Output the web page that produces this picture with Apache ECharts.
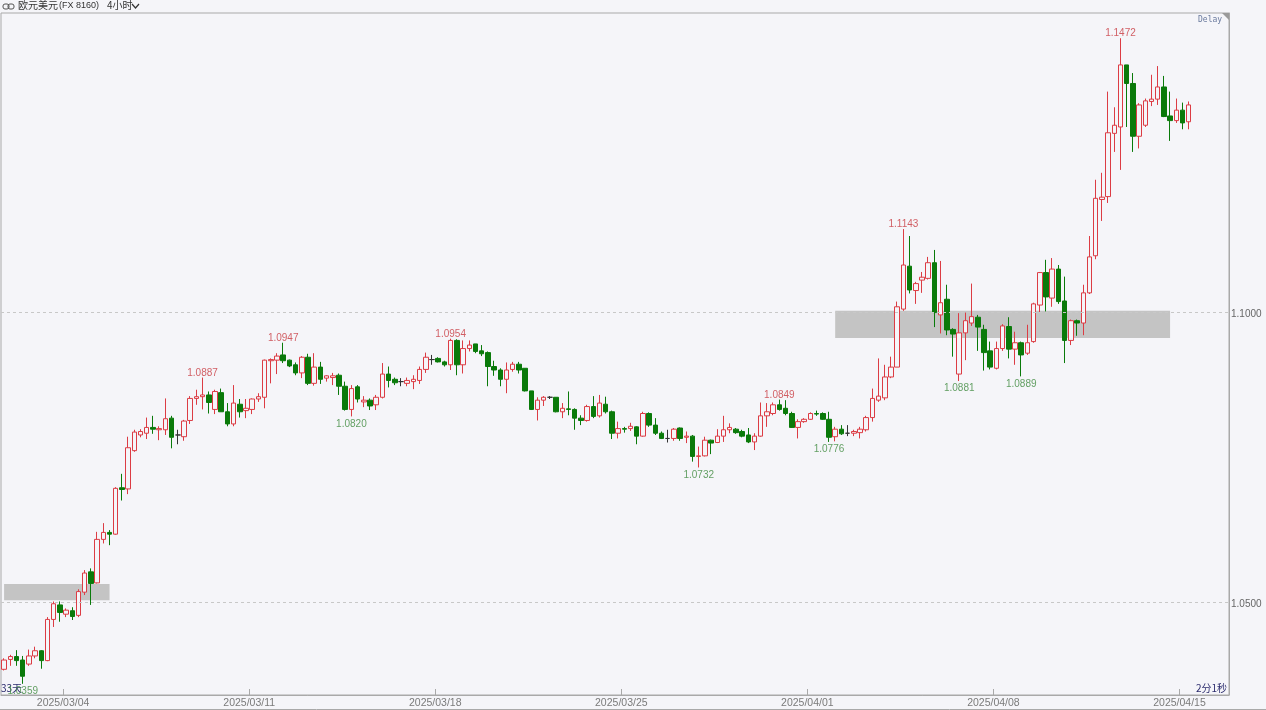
<!DOCTYPE html>
<html>
<head>
<meta charset="utf-8">
<script src="https://cdn.jsdelivr.net/npm/echarts@6/dist/echarts.min.js"></script>
<style>
html,body{margin:0;padding:0;background:#f5f5f9;}
#chart{width:1266px;height:710px;}
</style>
</head>
<body>
<div id="chart"></div>
<script>
// ---- data (4-hour bars, EUR/USD) ----
const opens = [
1.0384,1.0401,1.0406,1.0400,1.0393,1.0407,1.0416,1.0399,1.0470,1.0495,
1.0479,1.0485,1.0477,1.0517,1.0552,1.0533,1.0608,1.0620,1.0617,1.0697,
1.0695,1.0761,1.0788,1.0791,1.0801,1.0797,1.0797,1.0817,1.0788,1.0785,
1.0813,1.0851,1.0854,1.0857,1.0832,1.0861,1.0828,1.0807,1.0841,1.0830,
1.0832,1.0850,1.0853,1.0916,1.0917,1.0926,1.0917,1.0909,1.0895,1.0922,
1.0877,1.0905,1.0886,1.0887,1.0891,1.0872,1.0832,1.0871,1.0845,1.0848,
1.0840,1.0853,1.0893,1.0884,1.0880,1.0877,1.0880,1.0882,1.0901,1.0918,
1.0920,1.0914,1.0909,1.0951,1.0909,1.0937,1.0945,1.0933,1.0930,1.0906,
1.0900,1.0884,1.0901,1.0910,1.0903,1.0864,1.0832,1.0848,1.0853,1.0853,
1.0828,1.0833,1.0832,1.0817,1.0813,1.0837,1.0821,1.0841,1.0828,1.0791,
1.0799,1.0799,1.0802,1.0786,1.0825,1.0805,1.0791,1.0782,1.0782,1.0800,
1.0784,1.0786,1.0751,1.0752,1.0779,1.0775,1.0786,1.0797,1.0798,1.0794,
1.0788,1.0776,1.0786,1.0821,1.0825,1.0840,1.0834,1.0825,1.0801,1.0811,
1.0815,1.0825,1.0825,1.0815,1.0785,1.0798,1.0791,1.0791,1.0792,1.0797,
1.0818,1.0848,1.0852,1.0888,1.0905,1.1005,1.1079,1.1037,1.1055,1.1058,
1.1085,1.0995,1.1022,1.0970,1.0893,1.0964,1.0981,1.0991,1.0970,1.0933,
1.0903,1.0937,1.0975,1.0936,1.0947,1.0929,1.0949,1.1012,1.1068,1.1024,
1.1074,1.1019,1.0951,1.0985,1.0981,1.1033,1.1097,1.1194,1.1199,1.1308,
1.1319,1.1426,1.1394,1.1303,1.1322,1.1363,1.1367,1.1388,1.1338,1.1330,
1.1348,1.1328
];
const highs = [
1.0403,1.0409,1.0417,1.0407,1.0418,1.0423,1.0417,1.0474,1.0501,1.0501,
1.0489,1.0491,1.0522,1.0555,1.0558,1.0621,1.0636,1.0624,1.0698,1.0721,
1.0785,1.0797,1.0798,1.0818,1.0821,1.0803,1.0851,1.0821,1.0797,1.0814,
1.0855,1.0866,1.0887,1.0863,1.0866,1.0868,1.0843,1.0874,1.0850,1.0850,
1.0851,1.0860,1.0918,1.0920,1.0929,1.0947,1.0918,1.0913,1.0924,1.0928,
1.0929,1.0914,1.0891,1.0895,1.0894,1.0880,1.0874,1.0874,1.0855,1.0851,
1.0857,1.0912,1.0906,1.0887,1.0886,1.0887,1.0891,1.0906,1.0930,1.0926,
1.0922,1.0916,1.0954,1.0953,1.0951,1.0951,1.0945,1.0943,1.0932,1.0916,
1.0903,1.0913,1.0914,1.0914,1.0903,1.0864,1.0853,1.0855,1.0855,1.0853,
1.0843,1.0863,1.0834,1.0822,1.0840,1.0855,1.0857,1.0854,1.0830,1.0811,
1.0802,1.0809,1.0803,1.0828,1.0827,1.0817,1.0794,1.0797,1.0800,1.0801,
1.0794,1.0788,1.0768,1.0785,1.0780,1.0798,1.0821,1.0808,1.0800,1.0797,
1.0800,1.0791,1.0844,1.0843,1.0844,1.0849,1.0848,1.0828,1.0815,1.0817,
1.0827,1.0830,1.0827,1.0828,1.0802,1.0805,1.0805,1.0797,1.0802,1.0821,
1.0868,1.0920,1.0909,1.0923,1.1018,1.1143,1.1131,1.1052,1.1069,1.1095,
1.1107,1.1088,1.1047,1.0972,1.0998,1.0999,1.1049,1.0995,1.0978,1.0949,
1.0949,1.0979,1.0991,1.0966,1.0949,1.0978,1.1016,1.1069,1.1090,1.1093,
1.1081,1.1061,1.0987,1.0987,1.1047,1.1131,1.1228,1.1240,1.1380,1.1353,
1.1472,1.1426,1.1412,1.1360,1.1368,1.1409,1.1424,1.1407,1.1380,1.1368,
1.1361,1.1363
];
const lows = [
1.0382,1.0390,1.0390,1.0359,1.0390,1.0403,1.0385,1.0398,1.0457,1.0466,
1.0474,1.0469,1.0474,1.0512,1.0495,1.0532,1.0601,1.0598,1.0616,1.0675,
1.0686,1.0759,1.0784,1.0781,1.0790,1.0779,1.0788,1.0765,1.0772,1.0778,
1.0807,1.0840,1.0832,1.0825,1.0824,1.0828,1.0803,1.0803,1.0818,1.0817,
1.0824,1.0845,1.0834,1.0877,1.0893,1.0912,1.0905,1.0891,1.0886,1.0874,
1.0873,1.0876,1.0880,1.0874,1.0857,1.0830,1.0820,1.0844,1.0836,1.0831,
1.0831,1.0851,1.0870,1.0874,1.0872,1.0872,1.0867,1.0876,1.0895,1.0909,
1.0913,1.0906,1.0900,1.0891,1.0894,1.0932,1.0929,1.0924,1.0872,1.0890,
1.0872,1.0860,1.0897,1.0894,1.0863,1.0831,1.0813,1.0838,1.0850,1.0827,
1.0817,1.0822,1.0797,1.0805,1.0811,1.0817,1.0818,1.0825,1.0781,1.0782,
1.0792,1.0795,1.0772,1.0785,1.0802,1.0788,1.0781,1.0775,1.0778,1.0778,
1.0774,1.0742,1.0732,1.0751,1.0755,1.0774,1.0776,1.0791,1.0790,1.0784,
1.0774,1.0762,1.0785,1.0802,1.0822,1.0830,1.0822,1.0800,1.0782,1.0809,
1.0814,1.0821,1.0814,1.0776,1.0777,1.0788,1.0786,1.0786,1.0782,1.0794,
1.0811,1.0845,1.0848,1.0886,1.0905,1.1002,1.1032,1.1014,1.1033,1.1056,
1.0974,1.0963,1.0960,1.0923,1.0881,1.0917,1.0976,1.0933,1.0899,1.0901,
1.0901,1.0933,1.0920,1.0909,1.0889,1.0926,1.0947,1.0999,1.1001,1.1009,
1.1014,1.0912,1.0943,1.0959,1.0960,1.1031,1.1091,1.1157,1.1188,1.1276,
1.1245,1.1319,1.1276,1.1282,1.1319,1.1355,1.1357,1.1336,1.1295,1.1326,
1.1315,1.1315
];
const closes = [
1.0400,1.0406,1.0399,1.0372,1.0407,1.0416,1.0399,1.0470,1.0497,1.0482,
1.0486,1.0475,1.0518,1.0550,1.0532,1.0608,1.0620,1.0617,1.0696,1.0694,
1.0766,1.0793,1.0794,1.0801,1.0798,1.0799,1.0816,1.0784,1.0788,1.0812,
1.0851,1.0854,1.0857,1.0844,1.0863,1.0828,1.0807,1.0843,1.0828,1.0834,
1.0850,1.0854,1.0917,1.0918,1.0924,1.0916,1.0907,1.0895,1.0922,1.0877,
1.0905,1.0884,1.0890,1.0890,1.0872,1.0832,1.0868,1.0850,1.0848,1.0838,
1.0853,1.0893,1.0882,1.0878,1.0880,1.0882,1.0884,1.0901,1.0922,1.0918,
1.0914,1.0909,1.0951,1.0909,1.0937,1.0943,1.0932,1.0928,1.0906,1.0900,
1.0884,1.0900,1.0910,1.0900,1.0864,1.0832,1.0848,1.0853,1.0853,1.0828,
1.0834,1.0832,1.0817,1.0813,1.0837,1.0820,1.0843,1.0828,1.0791,1.0799,
1.0798,1.0803,1.0786,1.0825,1.0805,1.0791,1.0782,1.0782,1.0798,1.0782,
1.0786,1.0751,1.0752,1.0779,1.0774,1.0786,1.0797,1.0801,1.0792,1.0786,
1.0776,1.0786,1.0821,1.0828,1.0840,1.0832,1.0825,1.0801,1.0811,1.0815,
1.0825,1.0824,1.0815,1.0784,1.0798,1.0790,1.0791,1.0794,1.0798,1.0818,
1.0851,1.0855,1.0888,1.0905,1.1009,1.1081,1.1038,1.1049,1.1060,1.1085,
1.0999,1.1016,1.0969,1.0962,1.0964,1.0985,1.0992,1.0974,1.0930,1.0905,
1.0937,1.0976,1.0936,1.0947,1.0926,1.0947,1.1014,1.1068,1.1026,1.1074,
1.1018,1.0951,1.0985,1.0981,1.1033,1.1095,1.1196,1.1198,1.1309,1.1322,
1.1426,1.1394,1.1303,1.1357,1.1364,1.1367,1.1388,1.1337,1.1330,1.1348,
1.1326,1.1357
];
// bar slots on the category axis (bars + empty right margin)
const slotCount = 198;
// date ticks: bar index where the day starts, and its label
const dateTickIndex = [10, 40, 70, 100, 130, 160, 190];
const dateTickLabel = ['2025/03/04','2025/03/11','2025/03/18','2025/03/25','2025/04/01','2025/04/08','2025/04/15'];
// price axis
const yMin = 1.03397, yMax = 1.15155;
const yTicks = [1.05, 1.10];
// high / low annotations [barIndex, price]
const highMarks = [[32,1.0887],[45,1.0947],[72,1.0954],[125,1.0849],[145,1.1143],[180,1.1472]];
const lowMarks  = [[3,1.0359],[56,1.0820],[112,1.0732],[133,1.0776],[154,1.0881],[164,1.0889]];
// grey zones [startBar, endBar, low, high]
const zoneStart = [0, 134];
const zoneEnd   = [17, 188];
const zoneLow   = [1.0503, 1.0955];
const zoneHigh  = [1.0531, 1.1002];

const BG = '#f5f5f9';
const UP = '#dc3c44';
const DOWN = '#0a7a0a';

const categories = Array.from({length: slotCount}, (_, i) => String(i));
const candleData = opens.map((o, i) => [o, closes[i], lows[i], highs[i]]);
const lastClose = closes[closes.length - 1];

const chart = echarts.init(document.getElementById('chart'), null, {renderer: 'canvas'});
const FONT = 'Liberation Sans';

chart.setOption({
  backgroundColor: BG,
  animation: false,
  grid: {
    left: 1, right: 37, top: 13, bottom: 15,
    show: true, borderColor: '#a9a9a9', borderWidth: 1, backgroundColor: BG,
    containLabel: false, outerBoundsMode: 'none'
  },
  xAxis: {
    type: 'category',
    data: categories,
    boundaryGap: true,
    axisLine: {show: true, lineStyle: {color: '#a9a9a9'}},
    axisTick: {
      show: true, inside: true, length: 6, lineStyle: {color: '#a9a9a9'},
      interval: (idx) => dateTickIndex.includes(idx)
    },
    axisLabel: {
      show: true,
      interval: (idx) => dateTickIndex.includes(idx),
      formatter: (v) => { const k = dateTickIndex.indexOf(Number(v)); return k >= 0 ? dateTickLabel[k] : ''; },
      color: '#7a7a7a', fontSize: 10.5, fontFamily: FONT, margin: 3,
      padding: [0, 6, 0, 0], hideOverlap: false
    },
    splitLine: {show: false}
  },
  yAxis: {
    type: 'value',
    position: 'right',
    min: yMin, max: yMax,
    scale: true,
    axisLine: {show: true, lineStyle: {color: '#a9a9a9'}},
    axisTick: {show: false},
    splitLine: {show: false},
    axisLabel: {
      show: true,
      customValues: yTicks,
      formatter: (v) => '{a|' + v.toFixed(4) + '}',
      rich: {a: {padding: [4, 0, 0, 0], color: '#666666', fontSize: 10, fontFamily: FONT}},
      color: '#666666', fontSize: 10, fontFamily: FONT, margin: 2
    }
  },
  series: [
    {
      type: 'line',
      data: [],
      z: 1,
      silent: true,
      markArea: {
        silent: true,
        itemStyle: {color: '#c4c4c4', opacity: 1},
        data: zoneStart.map((s, k) => [
          {xAxis: s, yAxis: zoneHigh[k]},
          {xAxis: zoneEnd[k], yAxis: zoneLow[k]}
        ])
      },
      markLine: {
        silent: true,
        symbol: 'none',
        label: {show: false},
        data: yTicks.map(v => ({yAxis: v, lineStyle: {color: '#c8c8c8', type: [3, 3], width: 1}}))
          .concat([[{coord: [195, lastClose], lineStyle: {color: '#34347a', type: 'solid', width: 1}}, {coord: [197.6, lastClose]}]])
      }
    },
    {
      type: 'candlestick',
      data: candleData,
      z: 3,
      barWidth: 5,
      itemStyle: {
        color: BG, color0: DOWN,
        borderColor: UP, borderColor0: DOWN,
        borderColorDoji: '#333333',
        borderWidth: 1
      }
    },
    {
      type: 'scatter',
      data: highMarks,
      symbolSize: 1,
      z: 4,
      itemStyle: {color: 'rgba(0,0,0,0)'},
      label: {
        show: true, position: 'top', distance: 2, offset: [0, 3],
        formatter: (p) => p.value[1].toFixed(4),
        color: '#c8383e', fontSize: 10, fontFamily: FONT
      }
    },
    {
      type: 'scatter',
      data: lowMarks,
      symbolSize: 1,
      z: 4,
      itemStyle: {color: 'rgba(0,0,0,0)'},
      label: {
        show: true, position: 'bottom', distance: 2,
        formatter: (p) => p.value[1].toFixed(4),
        color: '#3d8a3d', fontSize: 10, fontFamily: FONT
      }
    }
  ],
  graphic: [
    // title bar
    {type: 'rect', shape: {x: 3, y: 4, width: 6, height: 5, r: 2}, style: {fill: 'none', stroke: '#555', lineWidth: 1}},
    {type: 'rect', shape: {x: 8, y: 4, width: 6, height: 5, r: 2}, style: {fill: 'none', stroke: '#555', lineWidth: 1}},
    {type: 'text', left: 18, top: 0, style: {text: '欧元美元', fontSize: 10, fontFamily: 'Noto Sans CJK SC', fill: '#333'}},
    {type: 'text', left: 59, top: 1, style: {text: '(FX 8160)', fontSize: 9, fontFamily: 'Liberation Sans', fill: '#333'}},
    {type: 'text', left: 107, top: 0, style: {text: '4小时', fontSize: 10, fontFamily: 'Noto Sans CJK SC', fill: '#333'}},
    {type: 'polyline', shape: {points: [[132, 4], [135.5, 8], [139, 4]]}, style: {stroke: '#333', lineWidth: 1.2, fill: 'none'}},
    // delay tag
    {type: 'text', left: 1198, top: 16, style: {text: 'Delay', fontSize: 8, fontFamily: 'DejaVu Sans Mono', fill: '#6a7a9e'}},
    {type: 'polygon', shape: {points: [[1222, 13], [1229, 13], [1229, 20]]}, style: {fill: '#9a9a9a'}},
    // bottom corner texts
    {type: 'text', left: 1, top: 683, style: {text: '33天', fontSize: 10, fontFamily: 'Noto Sans CJK SC', fill: '#2c2c6e'}},
    {type: 'text', right: 39, top: 683, style: {text: '2分1秒', fontSize: 10, fontFamily: 'Noto Sans CJK SC', fill: '#2c2c6e'}},
    // outer frame bottom
    {type: 'line', shape: {x1: 0, y1: 709.5, x2: 1266, y2: 709.5}, style: {stroke: '#a9a9a9', lineWidth: 1}}
  ]
});
</script>
</body>
</html>
